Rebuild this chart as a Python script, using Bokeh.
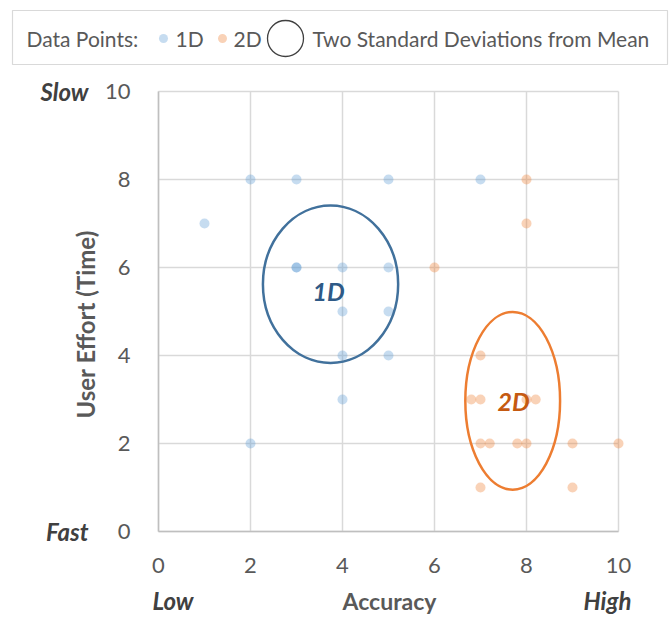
import math
from bokeh.plotting import figure
from bokeh.models import Range1d, FixedTicker
from bokeh.core.properties import value
from bokeh.embed import file_html
from bokeh.resources import INLINE

# ---- data ----
x_1d = [1, 2, 3, 5, 7, 3, 3, 4, 5, 4, 5, 4, 5, 4, 2]
y_1d = [7, 8, 8, 8, 8, 6, 6, 6, 6, 5, 5, 4, 4, 3, 2]
x_2d = [8, 8, 6, 7, 6.8, 7, 8, 8.2, 7, 7.2, 7.8, 8, 9, 10, 7, 9]
y_2d = [8, 7, 6, 4, 3, 3, 3, 3, 2, 2, 2, 2, 2, 2, 1, 1]
groups = ["1D", "2D"]
mean_x = [3.74, 7.7]
mean_y = [5.62, 2.97]
two_sd_x = [1.47, 1.03]
two_sd_y = [1.79, 2.02]
ticks = [0, 2, 4, 6, 8, 10]
x_title = "Accuracy"
y_title = "User Effort  (Time)"
x_ends = ["Low", "High"]
y_ends = ["Fast", "Slow"]
legend_title = "Data Points:"
ring_label = "Two Standard Deviations from Mean"

# ---- styling / layout ----
FONT = "Lato"
GRAY = "#595959"
DARK = "#404040"
BLUE = "#5b9bd5"
ORANGE = "#ed7d31"
BLUE_DARK = "#41719c"
BLUE_TEXT = "#2e5a87"
ORANGE_TEXT = "#c55a11"
GRID = "#d9d9d9"

W, H = 672, 617
X0, XS = 158, 46.0   # pixel of x=0, pixels per unit
Y0, YS = 531, 44.0   # pixel of y=0, pixels per unit


def dx(px):
    return (px - X0) / XS


def dy(py):
    return (Y0 - py) / YS


p = figure(width=W, height=H,
           x_range=Range1d(dx(0), dx(W)), y_range=Range1d(dy(H), dy(0)),
           output_backend="svg", toolbar_location=None,
           min_border=0, min_border_left=0, min_border_right=0,
           min_border_top=0, min_border_bottom=0)
p.outline_line_color = None
p.grid.visible = False

# axes pinned at 0 (drawn inside the frame)
for ax in (p.xaxis[0], p.yaxis[0]):
    ax.fixed_location = 0
    ax.bounds = (ticks[0], ticks[-1])
    ax.ticker = FixedTicker(ticks=ticks)
    ax.major_tick_out = 0
    ax.major_tick_in = 0
    ax.minor_tick_out = 0
    ax.minor_tick_in = 0
    ax.axis_line_color = "#bfbfbf"
    ax.axis_line_width = 1.5
    ax.major_label_text_font = FONT
    ax.major_label_text_font_size = "22px"
    ax.major_label_text_color = GRAY
p.xaxis.major_label_standoff = 26
p.yaxis.major_label_standoff = 28

# grid lines limited to the plotting square
p.segment(x0=ticks, y0=[ticks[0]] * len(ticks), x1=ticks, y1=[ticks[-1]] * len(ticks),
          line_color=GRID, line_width=1.5, level="underlay")
p.segment(x0=[ticks[0]] * len(ticks), y0=ticks, x1=[ticks[-1]] * len(ticks), y1=ticks,
          line_color=GRID, line_width=1.5, level="underlay")

# data
p.scatter(x=x_1d, y=y_1d, size=10, fill_color=BLUE, fill_alpha=0.35, line_color=None)
p.scatter(x=x_2d, y=y_2d, size=10, fill_color=ORANGE, fill_alpha=0.35, line_color=None)
p.ellipse(x=[mean_x[0]], y=[mean_y[0]], width=[2 * two_sd_x[0]], height=[2 * two_sd_y[0]],
          fill_color=None, line_color=BLUE_DARK, line_width=2.5)
p.ellipse(x=[mean_x[1]], y=[mean_y[1]], width=[2 * two_sd_x[1]], height=[2 * two_sd_y[1]],
          fill_color=None, line_color=ORANGE, line_width=2.5)
p.text(x=[dx(328)], y=[dy(290)], text=[groups[0]], text_font=value(FONT),
       text_font_size="25px", text_font_style="bold italic", text_color=BLUE_TEXT,
       text_align="center", text_baseline="middle")
p.text(x=[dx(513)], y=[dy(400)], text=[groups[1]], text_font=value(FONT),
       text_font_size="25px", text_font_style="bold italic", text_color=ORANGE_TEXT,
       text_align="center", text_baseline="middle")

# axis titles and end labels
end_kw = dict(text_font=value(FONT), text_font_size="24px", text_font_style="bold italic",
              text_color=DARK, text_baseline="middle")
p.text(x=[dx(88), dx(88)], y=[ticks[0], ticks[-1]], text=y_ends, text_align="right", **end_kw)
p.text(x=[dx(152)], y=[dy(600)], text=[x_ends[0]], text_align="left", **end_kw)
p.text(x=[dx(631)], y=[dy(600)], text=[x_ends[1]], text_align="right", **end_kw)
p.text(x=[dx(389)], y=[dy(600)], text=[x_title], text_align="center", text_baseline="middle",
       text_font=value(FONT), text_font_size="23px", text_font_style="bold", text_color=GRAY)
p.text(x=[dx(85)], y=[dy(321)], text=[y_title], angle=math.pi / 2, text_align="center",
       text_baseline="middle", text_font=value(FONT), text_font_size="24px",
       text_font_style="bold", text_color=GRAY)

# legend strip
LY = 38
p.quad(left=[dx(12)], right=[dx(667)], top=[dy(10)], bottom=[dy(64)],
       fill_color="white", line_color=GRID, line_width=1.2)
leg_kw = dict(text_font=value(FONT), text_font_size="21px", text_color=GRAY,
              text_baseline="middle", text_align="left")
p.text(x=[dx(26)], y=[dy(LY)], text=[legend_title], **leg_kw)
p.scatter(x=[dx(163)], y=[dy(LY)], size=9, fill_color=BLUE, fill_alpha=0.35, line_color=None)
p.text(x=[dx(175)], y=[dy(LY)], text=[groups[0]], **leg_kw)
p.scatter(x=[dx(222)], y=[dy(LY)], size=9, fill_color=ORANGE, fill_alpha=0.35, line_color=None)
p.text(x=[dx(233)], y=[dy(LY)], text=[groups[1]], **leg_kw)
p.scatter(x=[dx(285)], y=[dy(LY)], size=36, fill_color=None, line_color=DARK, line_width=1.3)
p.text(x=[dx(312)], y=[dy(LY)], text=[ring_label], **leg_kw)

open("out.html", "w").write(file_html(p, INLINE))
